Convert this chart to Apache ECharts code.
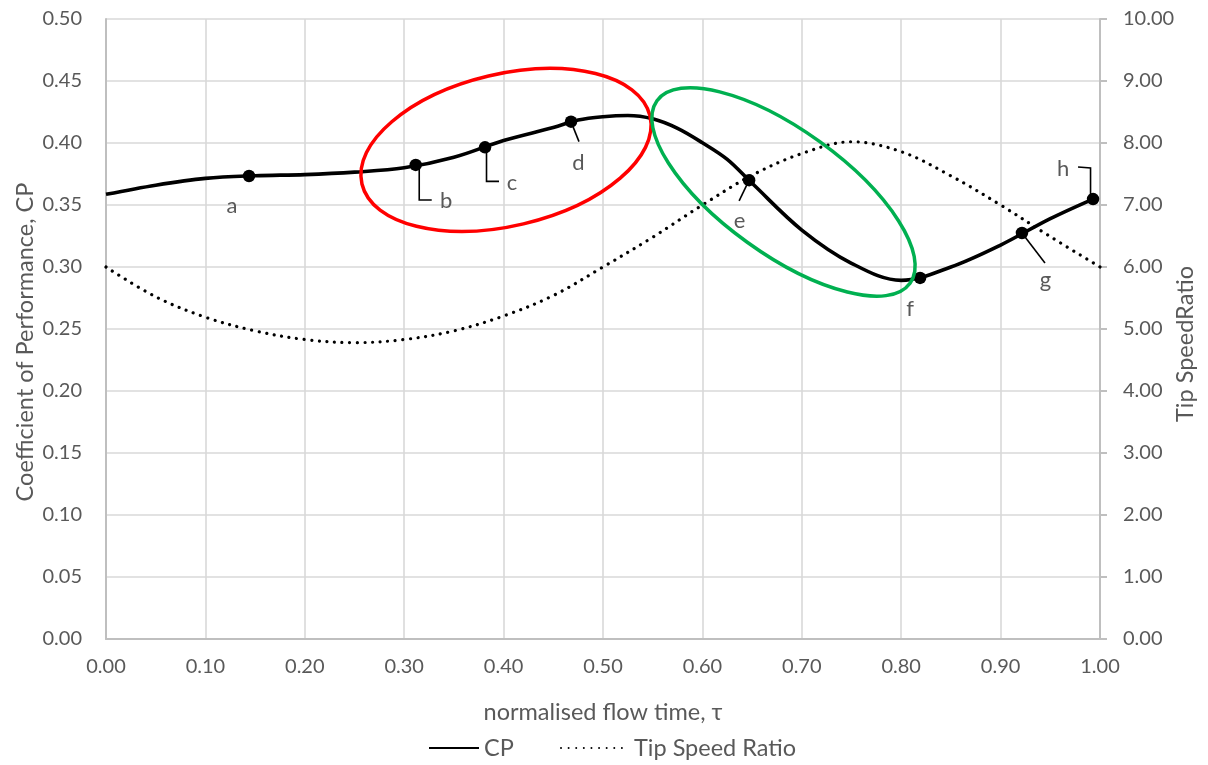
<!DOCTYPE html>
<html>
<head>
<meta charset="utf-8">
<script src="https://cdn.jsdelivr.net/npm/echarts@6/dist/echarts.min.js"></script>
<style>
html,body{margin:0;padding:0;background:#fff;}
#chart{width:1208px;height:765px;}
</style>
</head>
<body>
<div id="chart"></div>
<script>
// ---- data ----
const cpTau = [0, 0.05, 0.1, 0.15, 0.2, 0.25, 0.3, 0.35, 0.4, 0.45, 0.475, 0.5, 0.525, 0.55, 0.575, 0.6, 0.625, 0.65, 0.7, 0.75, 0.8, 0.85, 0.9, 0.95, 0.993];
const cpValues = [0.3586, 0.366, 0.3715, 0.3736, 0.3745, 0.3765, 0.380, 0.3885, 0.402, 0.4125, 0.4185, 0.4212, 0.4222, 0.4195, 0.4118, 0.4002, 0.3868, 0.3675, 0.3298, 0.303, 0.2892, 0.300, 0.3177, 0.339, 0.3548];

const tsrTau = [0, 0.05, 0.1, 0.15, 0.2, 0.25, 0.3, 0.35, 0.4, 0.45, 0.5, 0.55, 0.6, 0.65, 0.7, 0.75, 0.8, 0.85, 0.9, 0.95, 1.0];
const tsrValues = [6.0, 5.52, 5.19, 4.97, 4.83, 4.78, 4.83, 4.97, 5.21, 5.54, 6.0, 6.48, 7.0, 7.48, 7.83, 8.02, 7.86, 7.47, 7.0, 6.49, 6.0];

const markerNames = ['a', 'b', 'c', 'd', 'e', 'f', 'g', 'h'];
const markerTau = [0.1439, 0.3116, 0.3813, 0.4678, 0.647, 0.819, 0.9215, 0.993];
const markerCP = [0.3734, 0.3823, 0.3965, 0.4172, 0.370, 0.2912, 0.3274, 0.3548];

const seriesNames = ['CP', 'Tip Speed Ratio'];
const xAxisTitle = 'normalised flow time, \u03c4';
const yLeftTitle = 'Coefficient of Performance, CP';
const yRightTitle = 'Tip SpeedRatio';

// ---- styling ----
const FONT = 'Lato, "Open Sans", sans-serif';
const TXT = '#595959';
const GRID = '#d9d9d9';
const AXIS = '#bfbfbf';
const FS = 20;     // tick labels
const FT = 23.5;   // titles / legend
const FL = 22;     // point labels

const chart = echarts.init(document.getElementById('chart'), null, {renderer: 'canvas'});

const legendText = {fontFamily: FONT, fontSize: FT, color: TXT};
const option = {
  animation: false,
  backgroundColor: '#ffffff',
  textStyle: {fontFamily: FONT, color: TXT},
  grid: {left: 106, right: 108, top: 19, bottom: 126, containLabel: false, outerBoundsMode: 'none'},
  legend: [{
    data: [seriesNames[0]], left: 428, top: 736, padding: 0,
    itemWidth: 50, itemHeight: 10, itemStyle: {opacity: 0}, textStyle: legendText
  }, {
    data: [seriesNames[1]], left: 560, top: 736, padding: 0,
    itemWidth: 68, itemHeight: 10, itemStyle: {opacity: 0}, textStyle: legendText
  }],
  xAxis: {
    type: 'value', min: 0, max: 1, interval: 0.1,
    name: xAxisTitle, nameLocation: 'middle', nameGap: 61, nameMoveOverlap: false,
    nameTextStyle: {fontFamily: FONT, fontSize: FT, color: TXT},
    axisLine: {show: true, onZero: false, lineStyle: {color: AXIS, width: 2}},
    axisTick: {show: false},
    axisLabel: {margin: 18, fontFamily: FONT, fontSize: FS, color: TXT, formatter: v => v.toFixed(2)},
    splitLine: {show: true, lineStyle: {color: GRID, width: 1.6}}
  },
  yAxis: [{
    type: 'value', min: 0, max: 0.5, interval: 0.05, position: 'left',
    name: yLeftTitle, nameLocation: 'middle', nameGap: 69, nameRotate: 90, nameMoveOverlap: false,
    nameTextStyle: {fontFamily: FONT, fontSize: FT, color: TXT, padding: [0, 26, 0, 0]},
    axisLine: {show: true, lineStyle: {color: AXIS, width: 2}},
    axisTick: {show: false},
    axisLabel: {margin: 24, fontFamily: FONT, fontSize: FS, color: TXT, formatter: v => v.toFixed(2)},
    splitLine: {show: true, lineStyle: {color: GRID, width: 1.6}}
  }, {
    type: 'value', min: 0, max: 10, interval: 1, position: 'right',
    name: yRightTitle, nameLocation: 'middle', nameGap: 73, nameRotate: 90, nameMoveOverlap: false,
    nameTextStyle: {fontFamily: FONT, fontSize: FT, color: TXT, padding: [0, 30, 0, 0]},
    axisLine: {show: true, lineStyle: {color: AXIS, width: 2}},
    axisTick: {show: true, inside: false, length: 7, lineStyle: {color: AXIS, width: 2}},
    axisLabel: {margin: 23, fontFamily: FONT, fontSize: FS, color: TXT, formatter: v => v.toFixed(2)},
    splitLine: {show: false}
  }],
  series: [{
    name: seriesNames[0], type: 'line', yAxisIndex: 0,
    data: cpTau.map((t, i) => [t, cpValues[i]]),
    smooth: 0.35, symbol: 'none', z: 5,
    lineStyle: {color: '#000000', width: 3.6},
    itemStyle: {color: '#000000'}
  }, {
    name: seriesNames[1], type: 'line', yAxisIndex: 1,
    data: tsrTau.map((t, i) => [t, tsrValues[i]]),
    smooth: 0.35, symbol: 'none', z: 4,
    lineStyle: {color: '#000000', width: 3.2, type: [0.01, 7.6], cap: 'round'},
    itemStyle: {color: '#000000'}
  }, {
    name: 'markers', type: 'scatter', yAxisIndex: 0,
    data: markerTau.map((t, i) => [t, markerCP[i]]),
    symbol: 'circle', symbolSize: 12.5, z: 6,
    itemStyle: {color: '#000000', opacity: 1}
  }]
};
chart.setOption(option);

// ---- annotations (pixel offsets relative to each marker) ----
const labelStyle = {
  a: {dx: -17, dy: 30, leader: null},
  b: {dx: 30.5, dy: 36, leader: [[3.5, 0], [3.5, 35], [16, 35]]},
  c: {dx: 27, dy: 36, leader: [[1.5, 0], [1.5, 34], [14, 34]]},
  d: {dx: 7.5, dy: 41, leader: [[0, 0], [8, 20]]},
  e: {dx: -9.6, dy: 41, leader: [[0, 0], [-10, 20.7]]},
  f: {dx: -10, dy: 31, leader: null},
  g: {dx: 23.5, dy: 47, leader: [[0, 0], [23, 30]]},
  h: {dx: -30, dy: -30, leader: [[-2.5, 0], [-2.5, -31], [-15, -32]]}
};

function buildGraphics() {
  const els = [];
  markerNames.forEach((nm, i) => {
    const p = chart.convertToPixel({xAxisIndex: 0, yAxisIndex: 0}, [markerTau[i], markerCP[i]]);
    const st = labelStyle[nm];
    if (st.leader) {
      els.push({
        type: 'polyline', z: 20,
        shape: {points: st.leader.map(o => [p[0] + o[0], p[1] + o[1]])},
        style: {stroke: '#000000', lineWidth: 1.6, fill: null}
      });
    }
    els.push({
      type: 'text', z: 20,
      style: {text: nm, x: p[0] + st.dx, y: p[1] + st.dy, fill: TXT,
              font: FL + 'px ' + FONT, align: 'center', verticalAlign: 'middle'}
    });
  });
  // ellipses: centre given in data units (tau, CP), semi-axes in pixels
  const ellipses = [
    {tau: 0.4024, cp: 0.3944, rx: 148, ry: 76, rot: 13.3, color: '#ff0000'},
    {tau: 0.6816, cp: 0.3605, rx: 156, ry: 62, rot: -35.8, color: '#00b050'}
  ];
  ellipses.forEach(e => {
    const c = chart.convertToPixel({xAxisIndex: 0, yAxisIndex: 0}, [e.tau, e.cp]);
    els.push({
      type: 'ellipse', z: 30, x: c[0], y: c[1], rotation: e.rot * Math.PI / 180,
      shape: {cx: 0, cy: 0, rx: e.rx, ry: e.ry},
      style: {fill: null, stroke: e.color, lineWidth: 3.5}
    });
  });
  chart.setOption({graphic: {elements: els}});
}
buildGraphics();
</script>
</body>
</html>
